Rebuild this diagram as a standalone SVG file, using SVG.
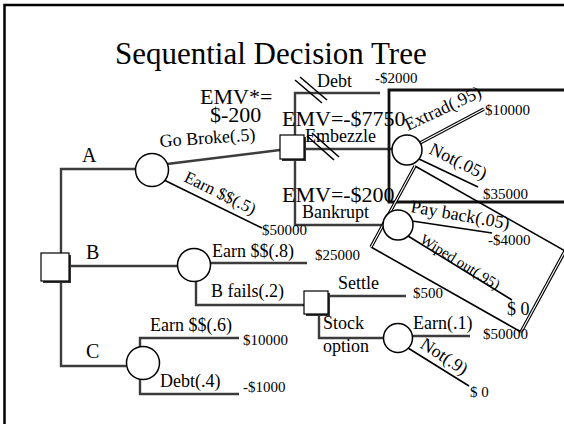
<svg xmlns="http://www.w3.org/2000/svg" width="564" height="424" viewBox="0 0 564 424">
  <style>
    text { font-family: "Liberation Serif", "Times New Roman", serif; fill: #000; }
    .t22 { font-size: 22px; }
    .t20 { font-size: 20px; }
    .t18 { font-size: 18px; }
    .t17 { font-size: 17px; }
    .t15 { font-size: 15px; }
    .br { stroke: #3c3c3c; stroke-width: 2.4; fill: none; }
    .thin { stroke: #000; stroke-width: 1.6; fill: none; }
    .dblo { stroke: #000; stroke-width: 3.4; fill: none; }
    .dbli { stroke: #fff; stroke-width: 1.1; fill: none; }
    .box { stroke: #111; stroke-width: 2.8; fill: none; }
    .chance { fill: #fff; stroke: #000; stroke-width: 1.5; }
    .dec { fill: #fff; stroke: #000; stroke-width: 1.2; }
    .shadow { fill: #333; }
    .cut { stroke: #000; stroke-width: 1.6; }
  </style>

  <!-- slide frame -->
  <path d="M564,5 H4.5 V424" fill="none" stroke="#000" stroke-width="2.5"/>

  <text x="115" y="64" style="font-size:31px">Sequential Decision Tree</text>

  <g id="connectors">
    <!-- root branches -->
    <path class="br" d="M61,282 V366 H126"/>
    <path class="br" d="M61,253 V169 H136"/>
    <path class="br" d="M69,266 H178"/>
    <!-- option A -->
    <path class="br" d="M167,164 L280,150"/>
    <path class="thin" d="M164,180 L262,228"/>
    <path class="br" d="M295,135 V93 H380"/>
    <path class="br" d="M295,159 V225 H384"/>
    <path class="br" d="M304,149 H392"/>
    <!-- pruned-branch marks -->
    <line class="cut" x1="295" y1="80" x2="322" y2="103"/>
    <line class="cut" x1="300" y1="77" x2="327" y2="100"/>
    <line class="cut" x1="307" y1="136" x2="334" y2="160"/>
    <line class="cut" x1="312" y1="133" x2="339" y2="157"/>
    <!-- embezzle outcomes -->
    <path class="dblo" d="M420,143 L484,109"/>
    <path class="dbli" d="M420,143 L484,109"/>
    <path class="thin" d="M419,159 L478,187"/>
    <!-- bankrupt outcomes -->
    <path class="thin" d="M412,221 L492,233"/>
    <path class="thin" d="M408,236 L512,300"/>
    <!-- option B -->
    <path class="br" d="M211,263 H307"/>
    <path class="br" d="M196,281 V305 H304"/>
    <path class="br" d="M328,296 H406"/>
    <path class="br" d="M319,314 V338 H384"/>
    <path class="br" d="M412,336 H470"/>
    <path class="thin" d="M408,348 L469,386"/>
    <!-- option C -->
    <path class="br" d="M140,347 V338 H239"/>
    <path class="br" d="M140,379 V394 H239"/>
  </g>

  <!-- highlight frames -->
  <g id="frames">
    <path class="box" d="M564,90 H389 V202 H564"/>
    <path class="thin" stroke-width="2" d="M415,166 L565,251 M371,247 L521,332"/>
    <path class="dblo" stroke-width="3.2" d="M415,166 L371,247 M521,332 L565,251"/>
    <path class="dbli" stroke-width="1" d="M415,166 L371,247 M521,332 L565,251"/>
  </g>

  <g id="root">
    <rect class="shadow" x="43" y="255" width="28" height="28"/>
    <rect class="dec" x="41" y="253" width="28" height="28"/>
  </g>
  <g id="nodeA">
    <circle class="chance" cx="152" cy="170" r="16.5"/>
  </g>
  <g id="nodeBroke">
    <rect class="shadow" x="282" y="137" width="24" height="24"/>
    <rect class="dec" x="280" y="135" width="24" height="24"/>
  </g>
  <g id="nodeEmbezzle">
    <circle class="chance" cx="407" cy="150" r="15"/>
  </g>
  <g id="nodeBankrupt">
    <circle class="chance" cx="398" cy="225" r="15"/>
  </g>
  <g id="nodeB">
    <circle class="chance" cx="194" cy="265" r="16.5"/>
  </g>
  <g id="nodeFails">
    <rect class="shadow" x="306" y="293" width="24" height="23"/>
    <rect class="dec" x="304" y="291" width="24" height="23"/>
  </g>
  <g id="nodeStock">
    <circle class="chance" cx="398" cy="338" r="14.5"/>
  </g>
  <g id="nodeC">
    <circle class="chance" cx="143" cy="363" r="16.5"/>
  </g>

  <g id="labels">
    <text class="t22" x="200" y="104">EMV*=</text>
    <text class="t22" x="210" y="122">$-200</text>
    <text class="t18" x="317" y="87">Debt</text>
    <text class="t15" x="375" y="83">-$2000</text>
    <text class="t22" x="282" y="126">EMV=-$7750</text>
    <text class="t18" x="305" y="142">Embezzle</text>
    <text class="t22" x="282" y="202">EMV=-$200</text>
    <text class="t18" x="302" y="218">Bankrupt</text>
    <text class="t15" x="485" y="115">$10000</text>
    <text class="t15" x="483" y="199">$35000</text>
    <text class="t15" x="488" y="245">-$4000</text>
    <text class="t18" x="507" y="315">$ 0</text>
    <text class="t15" x="483" y="339">$50000</text>
    <text class="t15" x="262" y="235">$50000</text>
    <text class="t20" x="82" y="162">A</text>
    <text class="t20" x="86" y="259">B</text>
    <text class="t20" x="86" y="358">C</text>
    <text class="t18" x="212" y="257">Earn $$(.8)</text>
    <text class="t15" x="315" y="260">$25000</text>
    <text class="t18" x="211" y="297">B fails(.2)</text>
    <text class="t18" x="338" y="289">Settle</text>
    <text class="t15" x="413" y="298">$500</text>
    <text class="t18" x="323" y="329">Stock</text>
    <text class="t18" x="323" y="352">option</text>
    <text class="t18" x="413" y="329">Earn(.1)</text>
    <text class="t15" x="470" y="397">$ 0</text>
    <text class="t18" x="150" y="331">Earn $$(.6)</text>
    <text class="t15" x="243" y="345">$10000</text>
    <text class="t18" x="160" y="387">Debt(.4)</text>
    <text class="t15" x="243" y="392">-$1000</text>
    <text class="t18" transform="translate(160,147) rotate(-4)">Go Broke(.5)</text>
    <text class="t17" transform="translate(183,181) rotate(26)">Earn $$(.5)</text>
    <text class="t18" transform="translate(408,131) rotate(-25)">Extrad(.95)</text>
    <text class="t18" transform="translate(428,153) rotate(26)">Not(.05)</text>
    <text class="t18" transform="translate(410,212) rotate(10)">Pay back(.05)</text>
    <text class="t15" transform="translate(419,242) rotate(32)">Wiped out(.95)</text>
    <text class="t18" transform="translate(419,347) rotate(33)">Not(.9)</text>
  </g>
</svg>
